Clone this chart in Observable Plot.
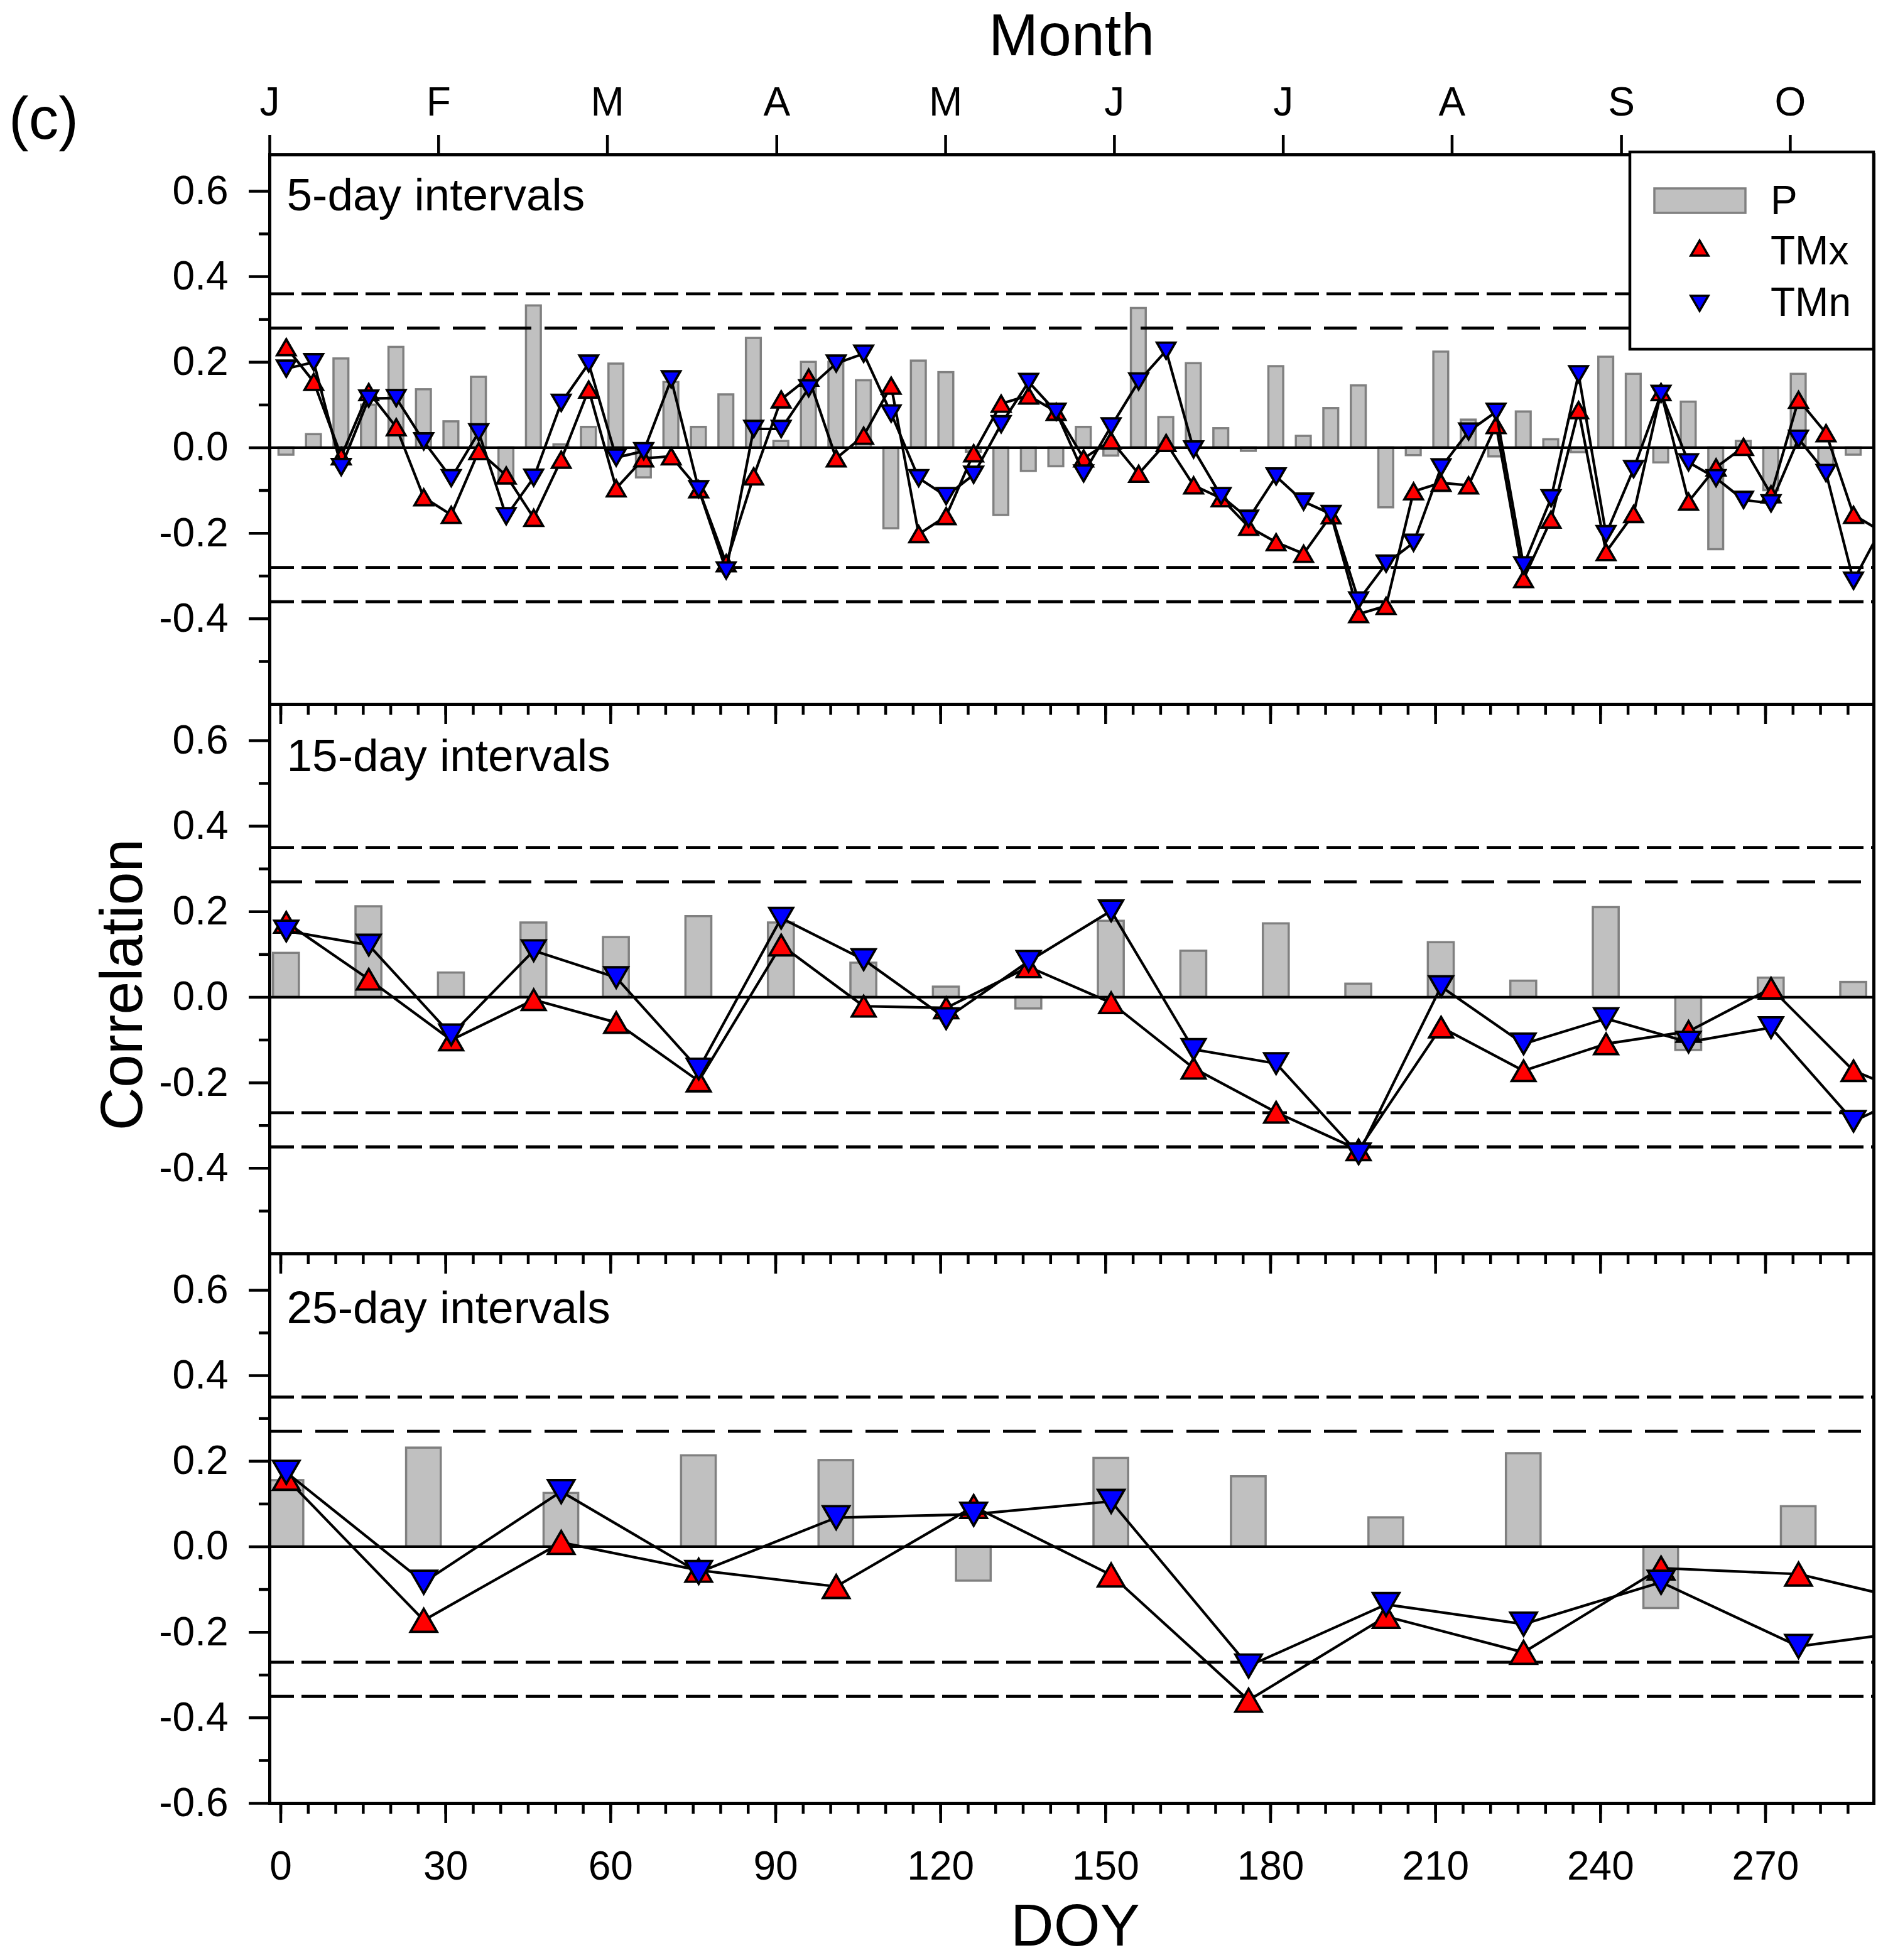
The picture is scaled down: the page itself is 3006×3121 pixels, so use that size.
<!DOCTYPE html>
<html>
<head>
<meta charset="utf-8">
<script src="https://cdn.jsdelivr.net/npm/d3@7"></script>
<script src="https://cdn.jsdelivr.net/npm/@observablehq/plot@0.6"></script>
<style>
  body { margin: 0; background: white; }
  #chart { position: relative; width: 3006px; height: 3121px; font-family: "Liberation Sans", Arial, sans-serif; }
  #chart svg { position: absolute; left: 0; top: 0; }
</style>
</head>
<body>
<div id="chart"></div>
<script>
// 5-day intervals
let doy5 = [1, 6, 11, 16, 21, 26, 31, 36, 41, 46, 51, 56, 61, 66, 71, 76, 81, 86, 91, 96,
  101, 106, 111, 116, 121, 126, 131, 136, 141, 146, 151, 156, 161, 166, 171, 176, 181, 186, 191, 196,
  201, 206, 211, 216, 221, 226, 231, 236, 241, 246, 251, 256, 261, 266, 271, 276, 281, 286, 291];
let p5 = [-0.017, 0.031, 0.208, 0.10, 0.235, 0.136, 0.061, 0.165, -0.076, 0.332,
  0.007, 0.048, 0.196, -0.07, 0.153, 0.048, 0.124, 0.256, 0.015, 0.2,
  0.2, 0.157, -0.189, 0.203, 0.176, -0.01, -0.158, -0.055, -0.044, 0.048,
  -0.019, 0.326, 0.071, 0.197, 0.045, -0.008, 0.19, 0.027, 0.092, 0.145,
  -0.14, -0.018, 0.224, 0.065, -0.021, 0.084, 0.019, -0.011, 0.212, 0.172,
  -0.035, 0.107, -0.238, 0.015, -0.1, 0.172, -0.042, -0.017, 0.063];
let tmx5 = [0.235, 0.154, -0.02, 0.13, 0.048, -0.116, -0.157, -0.008, -0.065, -0.164,
  -0.028, 0.136, -0.095, -0.025, -0.02, -0.097, -0.27, -0.067, 0.113, 0.164,
  -0.025, 0.028, 0.145, -0.202, -0.16, -0.013, 0.103, 0.122, 0.084, -0.025,
  0.017, -0.061, 0.011, -0.088, -0.118, -0.185, -0.221, -0.248, -0.158, -0.389,
  -0.37, -0.102, -0.082, -0.088, 0.053, -0.307, -0.168, 0.088, -0.244, -0.155,
  0.13, -0.126, -0.046, 0.002, -0.109, 0.112, 0.034, -0.157, -0.195];
let tmn5 = [0.185, 0.2, -0.045, 0.115, 0.116, 0.015, -0.071, 0.036, -0.16, -0.07,
  0.105, 0.197, -0.023, -0.008, 0.16, -0.097, -0.287, 0.044, 0.044, 0.139,
  0.197, 0.22, 0.08, -0.071, -0.113, -0.063, 0.055, 0.154, 0.084, -0.06,
  0.05, 0.155, 0.227, -0.004, -0.113, -0.166, -0.067, -0.126, -0.155, -0.357,
  -0.271, -0.222, -0.046, 0.038, 0.084, -0.275, -0.118, 0.172, -0.202, -0.05,
  0.126, -0.034, -0.071, -0.122, -0.13, 0.021, -0.059, -0.311, -0.19];
let sig5 = [0.36, 0.28, -0.28, -0.36];

// 15-day intervals
let doy15 = [1, 16, 31, 46, 61, 76, 91, 106, 121, 136, 151, 166, 181, 196, 211, 226, 241, 256, 271, 286, 301];
let p15 = [0.103, 0.212, 0.057, 0.174, 0.14, 0.189, 0.174, 0.08, 0.024, -0.027,
  0.178, 0.108, 0.172, 0.031, 0.128, 0.038, 0.21, -0.124, 0.045, 0.035, null];
let tmx15 = [0.175, 0.042, -0.10, -0.006, -0.059, -0.196, 0.122, -0.021, -0.025, 0.071,
  -0.013, -0.166, -0.269, -0.357, -0.07, -0.172, -0.109, -0.08, 0.021, -0.172, -0.25];
let tmn15 = [0.155, 0.122, -0.088, 0.109, 0.046, -0.168, 0.185, 0.088, -0.05, 0.084,
  0.202, -0.122, -0.155, -0.366, 0.025, -0.109, -0.05, -0.105, -0.071, -0.29, -0.2];
let sig15 = [0.35, 0.27, -0.27, -0.35];

// 25-day intervals
let doy25 = [1, 26, 51, 76, 101, 126, 151, 176, 201, 226, 251, 276, 301];
let p25 = [0.155, 0.231, 0.125, 0.213, 0.202, -0.08, 0.207, 0.164, 0.068, 0.218, -0.144, 0.094, null];
let tmx25 = [0.16, -0.172, 0.01, -0.055, -0.093, 0.094, -0.066, -0.359, -0.163, -0.247, -0.05, -0.064, -0.14];
let tmn25 = [0.174, -0.083, 0.129, -0.06, 0.068, 0.076, 0.106, -0.279, -0.135, -0.181, -0.083, -0.233, -0.19];
let sig25 = [0.35, 0.27, -0.27, -0.35];

// axes
let monthLabels = ["J", "F", "M", "A", "M", "J", "J", "A", "S", "O"];
let monthTicks = [-2, 28.7, 59.4, 90.2, 120.9, 151.6, 182.3, 213.0, 243.8, 274.5];
let doyTicks = [0, 30, 60, 90, 120, 150, 180, 210, 240, 270];
let doyMinor = d3.range(0, 290, 5);
let corrTicks = [0.6, 0.4, 0.2, 0, -0.2, -0.4];
let corrTicksLast = [0.6, 0.4, 0.2, 0, -0.2, -0.4, -0.6];
let corrMinor = [0.5, 0.3, 0.1, -0.1, -0.3, -0.5];

const font = '"Liberation Sans", Arial, sans-serif';
const frameH = 875;

// triangles centred on their bounding box, side = 2.7 * r
const triUp = {
  draw(ctx, size) {
    const s = 2.7 * Math.sqrt(size / Math.PI), h = s * Math.sqrt(3) / 2;
    ctx.moveTo(0, -h / 2); ctx.lineTo(s / 2, h / 2); ctx.lineTo(-s / 2, h / 2); ctx.closePath();
  }
};
const triDown = {
  draw(ctx, size) {
    const s = 2.7 * Math.sqrt(size / Math.PI), h = s * Math.sqrt(3) / 2;
    ctx.moveTo(0, h / 2); ctx.lineTo(s / 2, -h / 2); ctx.lineTo(-s / 2, -h / 2); ctx.closePath();
  }
};

const panels = [
  { label: "5-day intervals", doy: doy5, p: p5, tmx: tmx5, tmn: tmn5, sig: sig5, half: 1.35, r: 10.9, top: 246, labelDy: 88, first: true },
  { label: "15-day intervals", doy: doy15, p: p15, tmx: tmx15, tmn: tmn15, sig: sig15, half: 2.35, r: 14, top: 246 + frameH, labelDy: 106 },
  { label: "25-day intervals", doy: doy25, p: p25, tmx: tmx25, tmn: tmn25, sig: sig25, half: 3.15, r: 15.6, top: 246 + 2 * frameH, labelDy: 110, last: true }
];

const chart = d3.select("#chart");

panels.forEach(pn => {
  const rows = pn.doy.map((d, i) => ({ doy: d, p: pn.p[i], tmx: pn.tmx[i], tmn: pn.tmn[i] }));
  const bars = rows.filter(d => d.p != null);
  const inside = rows.filter(d => d.doy < 289);

  let marks = [
    Plot.rect(bars, {
      x1: d => d.doy - pn.half, x2: d => d.doy + pn.half,
      y1: () => 0, y2: "p",
      fill: "#c0c0c0", stroke: "#808080", strokeWidth: 3.5, clip: true
    }),
    Plot.ruleY([0], { stroke: "black", strokeWidth: 4.2 }),
    Plot.ruleY(pn.sig.slice(1, 2), { stroke: "black", strokeWidth: 4.8, strokeDasharray: "52,21" }),
    Plot.ruleY([pn.sig[0], pn.sig[2], pn.sig[3]], { stroke: "black", strokeWidth: 4.8, strokeDasharray: "39,12" }),
    Plot.line(rows, { x: "doy", y: "tmx", stroke: "black", strokeWidth: 4.2, clip: true }),
    Plot.dot(inside, { x: "doy", y: "tmx", symbol: triUp, r: pn.r, fill: "#ff0000", stroke: "black", strokeWidth: 3.8 }),
    Plot.line(rows, { x: "doy", y: "tmn", stroke: "black", strokeWidth: 4.2, clip: true }),
    Plot.dot(inside, { x: "doy", y: "tmn", symbol: triDown, r: pn.r, fill: "#0000ff", stroke: "black", strokeWidth: 3.8 }),
    Plot.text([pn.label], {
      frameAnchor: "top-left", dx: 27, dy: pn.labelDy, lineAnchor: "bottom",
      text: d => d, fontSize: 73, fill: "black"
    }),
    Plot.axisY({ ticks: pn.last ? corrTicksLast : corrTicks, tickSize: 33, tickPadding: 33, strokeWidth: 4.5,
      tickFormat: d => d.toFixed(1), label: null }),
    Plot.axisY({ ticks: corrMinor, tickSize: 17, strokeWidth: 4.5, tickFormat: () => "", label: null }),
    Plot.axisX({ ticks: doyTicks, tickSize: 32, tickPadding: 44, strokeWidth: 4.5,
      tickFormat: pn.last ? (d => String(d)) : (() => ""), label: null }),
    Plot.axisX({ ticks: doyMinor, tickSize: 17, strokeWidth: 4.5, tickFormat: () => "", label: null }),
    Plot.frame({ stroke: "black", strokeWidth: 5 })
  ];
  if (pn.first) {
    marks.push(Plot.axisX({ anchor: "top", ticks: monthTicks, tickSize: 32, tickPadding: 31, strokeWidth: 4.5,
      tickFormat: d => monthLabels[monthTicks.indexOf(d)], label: null }));
  }

  const plot = Plot.plot({
    width: 3006,
    height: pn.top + frameH + 140,
    marginTop: pn.top,
    marginBottom: 140,
    marginLeft: 429,
    marginRight: 23,
    x: { domain: [-2, 289.7] },
    y: { domain: [-0.6, 0.685] },
    style: { background: "transparent", overflow: "visible", fontSize: "64px", fontFamily: font, color: "black" },
    marks
  });
  chart.append(() => plot);
});

// titles and legend
const over = chart.append("svg")
  .attr("width", 3006).attr("height", 3121)
  .style("font-family", font).style("pointer-events", "none");

over.append("text").attr("x", 14).attr("y", 221).attr("font-size", 95).text("(c)");
over.append("text").attr("x", 1706).attr("y", 88).attr("text-anchor", "middle").attr("font-size", 95).text("Month");
over.append("text").attr("x", 1712).attr("y", 3098).attr("text-anchor", "middle").attr("font-size", 95).text("DOY");
over.append("text").attr("transform", "translate(226,1568) rotate(-90)")
  .attr("text-anchor", "middle").attr("font-size", 95).text("Correlation");

const lg = over.append("g");
lg.append("rect").attr("x", 2595).attr("y", 242).attr("width", 388).attr("height", 314)
  .attr("fill", "white").attr("stroke", "black").attr("stroke-width", 4.5);
lg.append("rect").attr("x", 2634).attr("y", 300).attr("width", 145).attr("height", 39)
  .attr("fill", "#c0c0c0").attr("stroke", "#808080").attr("stroke-width", 3.5);
const tri = (cx, cy, s, up) => {
  const h = s * Math.sqrt(3) / 2, d = up ? 1 : -1;
  return `M${cx},${cy - d * h / 2}L${cx + s / 2},${cy + d * h / 2}L${cx - s / 2},${cy + d * h / 2}Z`;
};
lg.append("path").attr("d", tri(2706, 395, 28, true)).attr("fill", "#ff0000").attr("stroke", "black").attr("stroke-width", 3.5);
lg.append("path").attr("d", tri(2706, 483, 28, false)).attr("fill", "#0000ff").attr("stroke", "black").attr("stroke-width", 3.5);
[["P", 341], ["TMx", 421], ["TMn", 503]].forEach(([t, y]) => {
  lg.append("text").attr("x", 2819).attr("y", y).attr("font-size", 64).text(t);
});
</script>
</body>
</html>
